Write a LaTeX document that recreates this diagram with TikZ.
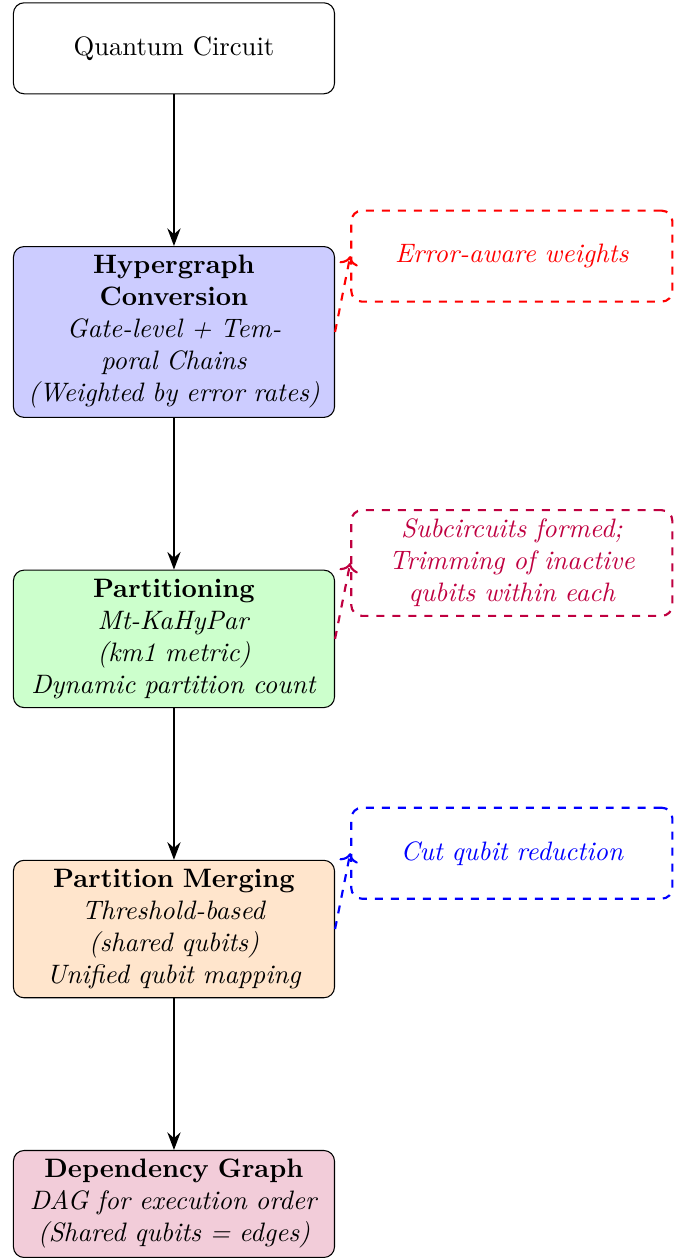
\documentclass[tikz,border=0pt]{standalone}
\usetikzlibrary{positioning,arrows.meta}

\tikzset{
    stage/.style={draw, rounded corners, text width=4cm, align=center, minimum height=1.2cm},
    note/.style={draw, dashed, thick, rounded corners, text width=4cm, align=center, minimum height=1.2cm, font=\itshape},
    flow/.style={-{Stealth}, thick},
    link/.style={->, dashed, thick}
}

\begin{document}
\begin{tikzpicture}[node distance=2cm]

    % Pipeline stages
    \node[stage] (circuit) {Quantum Circuit};
    \node[stage, fill=blue!20, below=of circuit] (hypergraph) {\textbf{Hypergraph Conversion}\\ \textit{Gate-level + Temporal Chains}\\ \textit{(Weighted by error rates)}};
    \node[stage, fill=green!20, below=of hypergraph] (partition) {\textbf{Partitioning}\\ \textit{Mt-KaHyPar}\\ \textit{(km1 metric)}\\ \textit{Dynamic partition count}};
    \node[stage, fill=orange!20, below=of partition] (merging) {\textbf{Partition Merging}\\ \textit{Threshold-based}\\ \textit{(shared qubits)}\\ \textit{Unified qubit mapping}};
    \node[stage, fill=purple!20, below=of merging] (depgraph) {\textbf{Dependency Graph}\\ \textit{DAG for execution order}\\ \textit{(Shared qubits = edges)}};

    % Side notes
    \node[note, red, right=0.2cm of hypergraph, yshift=1cm] (weights) {Error-aware weights};
    \node[note, purple, right=0.2cm of partition, yshift=1cm] (trimming) {Subcircuits formed;\\ Trimming of inactive qubits within each};
    \node[note, blue, right=0.2cm of merging, yshift=1cm] (cutqubits) {Cut qubit reduction};

    % Arrows
    \draw[flow] (circuit) -- (hypergraph);
    \draw[flow] (hypergraph) -- (partition);
    \draw[flow] (partition) -- (merging);
    \draw[flow] (merging) -- (depgraph);

    \draw[link, red] (hypergraph.east) -- (weights.west);
    \draw[link, purple] (partition.east) -- (trimming.west);
    \draw[link, blue] (merging.east) -- (cutqubits.west);

    % Frame
    \path ([xshift=-0.17cm, yshift=0.03cm]circuit.north west) coordinate (topleft);
    \path (weights.east |- depgraph.south) ++(0.2, 0) coordinate (bottomright);
    \pgfresetboundingbox
    \useasboundingbox (topleft) rectangle (bottomright);

\end{tikzpicture}
\end{document}
